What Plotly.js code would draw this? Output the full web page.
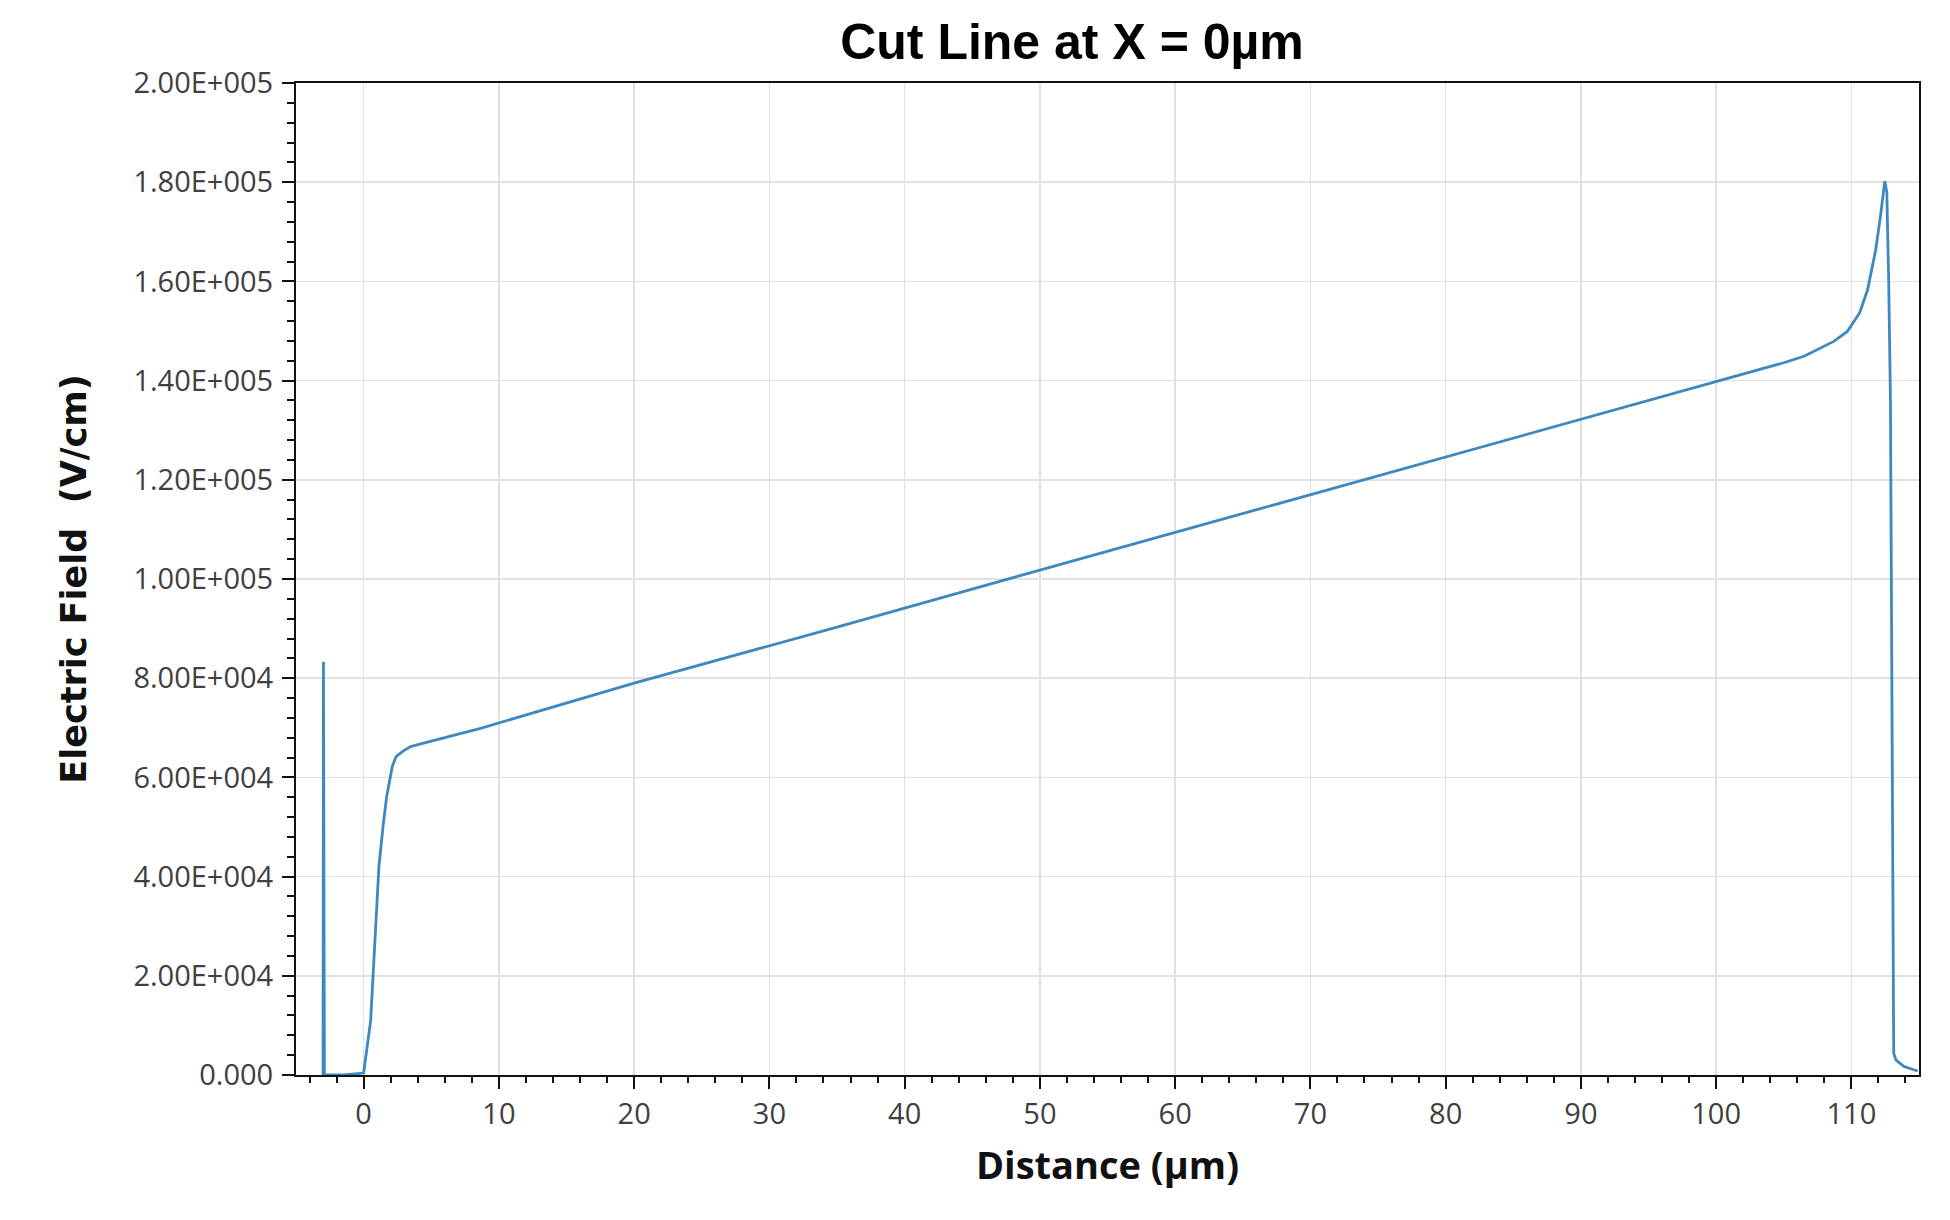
<!DOCTYPE html>
<html>
<head>
<meta charset="utf-8">
<script src="https://cdn.plot.ly/plotly-3.0.1.min.js"></script>
<style>
  html, body { margin: 0; padding: 0; background: #fff; }
  #chart { width: 1950px; height: 1220px; }
</style>
</head>
<body>
<div id="chart"></div>
<script>
// Cut line at X = 0um, electric field vs distance
const distance = [-3.05, -3.0, -2.97, -2.94, -2.9, -1.5, -0.3, 0.0, 0.52, 0.8, 1.13, 1.45, 1.7, 2.12, 2.4, 2.86, 3.47,
  5.0, 8.65, 20, 35, 50, 65, 80, 90, 100, 102.5, 105, 106.5, 107.5, 108.7, 109.7, 110.6, 111.2, 111.8,
  112.15, 112.47, 112.62, 112.76, 112.89, 113.13, 113.3, 113.9, 114.9];
const field = [0, 0, 83300, 0, 0, 0, 300, 400, 11000, 26000, 42000, 50500, 56100, 62200, 64200, 65200, 66200,
  67300, 69900, 79000, 90300, 101800, 113200, 124600, 132200, 139800, 141700, 143600, 144900, 146200, 147900, 149900, 153600, 158300, 166400,
  173100, 180200, 178000, 160000, 136000, 4400, 3000, 1700, 800];

const xTickVals = [0, 10, 20, 30, 40, 50, 60, 70, 80, 90, 100, 110];
const yTickVals = [0, 20000, 40000, 60000, 80000, 100000, 120000, 140000, 160000, 180000, 200000];
const yTickText = ['0.000', '2.00E+004', '4.00E+004', '6.00E+004', '8.00E+004', '1.00E+005',
  '1.20E+005', '1.40E+005', '1.60E+005', '1.80E+005', '2.00E+005'];

const trace = {
  x: distance,
  y: field,
  type: 'scatter',
  mode: 'lines',
  line: { color: '#3f87bf', width: 2.8 },
  hoverinfo: 'none',
};

const tickFont = { family: 'Open Sans', size: 29, color: '#404040' };

const layout = {
  width: 1950,
  height: 1220,
  margin: { l: 296, r: 31, t: 83, b: 145 },
  paper_bgcolor: '#fff',
  plot_bgcolor: '#fff',
  showlegend: false,
  title: {
    text: 'Cut Line at X = 0µm',
    font: { family: 'Liberation Sans, Arial', size: 50, color: '#000', weight: 'bold' },
    x: 1072 / 1950, xref: 'container', xanchor: 'center',
    y: 1 - 41 / 1220, yref: 'container', yanchor: 'middle',
  },
  xaxis: {
    range: [-5, 115],
    tickvals: xTickVals,
    ticks: 'outside', ticklen: 12, tickwidth: 2, tickcolor: '#111',
    minor: { dtick: 2, tick0: 0, ticks: 'outside', ticklen: 6, tickwidth: 2, tickcolor: '#111', showgrid: false },
    showline: true, linecolor: '#111', linewidth: 2, mirror: true,
    showgrid: true, gridcolor: '#e1e1e1', gridwidth: 1.5,
    zeroline: false,
    tickfont: tickFont,
    title: {
      text: 'Distance (µm)',
      font: { family: 'Open Sans', size: 38, color: '#111', weight: 'bold' },
      standoff: 22,
    },
  },
  yaxis: {
    range: [0, 200000],
    tickvals: yTickVals,
    ticktext: yTickText,
    ticks: 'outside', ticklen: 12, tickwidth: 2, tickcolor: '#111',
    minor: { dtick: 4000, tick0: 0, ticks: 'outside', ticklen: 7, tickwidth: 2, tickcolor: '#111', showgrid: false },
    showline: true, linecolor: '#111', linewidth: 2, mirror: true,
    showgrid: true, gridcolor: '#e1e1e1', gridwidth: 1.5,
    zeroline: false,
    tickfont: tickFont,
    ticklabelstandoff: 3,
    title: {
      text: 'Electric Field\u00a0 (V/cm)',
      font: { family: 'DejaVu Sans', size: 35, color: '#111', weight: 'bold' },
      standoff: 36,
    },
  },
};

Plotly.newPlot('chart', [trace], layout, { displayModeBar: false, staticPlot: true });
</script>
</body>
</html>
